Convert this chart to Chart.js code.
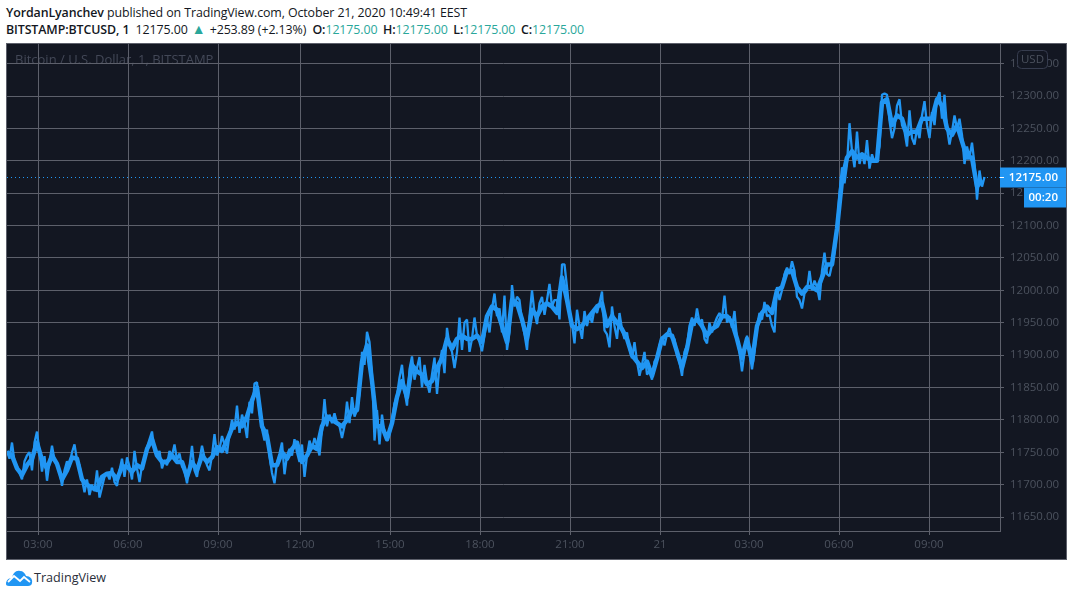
<!DOCTYPE html>
<html>
<head>
<meta charset="utf-8">
<title>BITSTAMP:BTCUSD, 1</title>
<script src="https://cdn.jsdelivr.net/npm/chart.js@4"></script>
<style>
    html, body { margin: 0; padding: 0; background: #fff; width: 1073px; height: 596px; overflow: hidden; }
    body { position: relative; font-family: "Open Sans", sans-serif; color: #131722; }
    .line { position: absolute; left: 6px; font-size: 12.4px; white-space: nowrap; letter-spacing: -0.1px; }
    .line b { font-weight: 600; }
    .up { color: #2aa79b; }
    .tri { font-size: 14px; line-height: 1; margin: 0 1px; }
    .ohlc { margin-left: 2.5px; }
    #line1 { top: 4px; }
    #line2 { top: 21px; }
    #frame { position: absolute; left: 6px; top: 43px; width: 1061px; height: 517px; box-sizing: border-box; border: 1px solid #5d606b; background: #131722; }
    #logo { position: absolute; left: 6px; top: 569px; }
    #brand { position: absolute; left: 34px; top: 569px; font-size: 12.6px; color: #2a2e39; }
</style>
</head>
<body>
<div class="line" id="line1"><b>YordanLyanchev</b> published on TradingView.com, October 21, 2020 10:49:41 EEST</div>
<div class="line" id="line2"><b>BITSTAMP:BTCUSD, 1</b>&nbsp; 12175.00 <span class="up tri">&#9650;</span> +253.89 (+2.13%)&nbsp; <b>O:</b><span class="up">12175.00</span> <b class="ohlc">H:</b><span class="up">12175.00</span> <b class="ohlc">L:</b><span class="up">12175.00</span> <b class="ohlc">C:</b><span class="up">12175.00</span></div>
<div id="frame"><canvas id="chart" width="1059" height="515"></canvas></div>
<svg id="logo" width="27" height="17" viewBox="0 0 27 17">
    <path d="M0 15 C0 11 3 9 6 9 C7 4 10 1 14 2 C17 2 19 4 20 7 C24 7 27 10 26 14 C26 16 24 17 22 17 L3 17 C1 17 0 16 0 15 Z" fill="#2196f3"/>
    <path d="M2 13 L8 7 L14 12 L18 8 L24 13" fill="none" stroke="#fff" stroke-width="1.8"/>
</svg>
<div id="brand">TradingView</div>
<script>
// Closes sampled every five 1-minute bars, these carry the thin spikes
const closes = [
    11752, 11740, 11765, 11735, 11728, 11718, 11708, 11736, 11745, 11750, 11722, 11765, 11782, 11750, 11720, 11744, 11706, 11735, 11760, 11738,
    11732, 11722, 11698, 11722, 11736, 11728, 11750, 11762, 11738, 11730, 11708, 11688, 11708, 11684, 11700, 11690, 11722, 11680, 11696, 11712,
    11718, 11708, 11726, 11704, 11698, 11722, 11740, 11712, 11742, 11728, 11708, 11752, 11725, 11704, 11730, 11742, 11758, 11770, 11782, 11752,
    11745, 11752, 11725, 11738, 11730, 11752, 11745, 11762, 11738, 11748, 11728, 11722, 11702, 11728, 11760, 11722, 11712, 11738, 11760, 11742,
    11730, 11722, 11745, 11778, 11745, 11755, 11775, 11762, 11748, 11778, 11800, 11785, 11822, 11780, 11808, 11795, 11772, 11828, 11810, 11856,
    11858, 11812, 11786, 11768, 11785, 11745, 11718, 11702, 11735, 11748, 11765, 11716, 11745, 11755, 11745, 11770, 11750, 11735, 11762, 11712,
    11745, 11768, 11755, 11772, 11760, 11745, 11785, 11832, 11790, 11808, 11795, 11810, 11795, 11790, 11772, 11790, 11828, 11795, 11835, 11805,
    11815, 11840, 11905, 11885, 11936, 11920, 11875, 11768, 11815, 11762, 11808, 11780, 11768, 11778, 11800, 11825, 11838, 11865, 11885, 11845,
    11822, 11878, 11898, 11862, 11880, 11897, 11850, 11885, 11858, 11842, 11870, 11896, 11840, 11885, 11908, 11872, 11942, 11915, 11905, 11880,
    11905, 11958, 11908, 11950, 11955, 11905, 11925, 11958, 11930, 11920, 11906, 11930, 11955, 11935, 11972, 11995, 11960, 11972, 11935, 11992,
    11908, 11935, 12008, 11975, 11990, 11985, 11952, 11932, 11908, 11960, 12000, 11965, 11948, 11980, 11990, 11962, 11985, 12010, 11975, 11985,
    11985, 11955, 12040, 12040, 12005, 11968, 11948, 11918, 11970, 11945, 11925, 11968, 11945, 11962, 11950, 11972, 11965, 11980, 11998, 11938,
    11932, 11912, 11975, 11945, 11925, 11965, 11940, 11925, 11935, 11910, 11895, 11920, 11890, 11868, 11885, 11905, 11870, 11875, 11862, 11890,
    11895, 11915, 11928, 11915, 11932, 11942, 11925, 11925, 11900, 11890, 11868, 11905, 11915, 11945, 11958, 11945, 11972, 11950, 11955, 11925,
    11918, 11950, 11935, 11948, 11958, 11965, 11955, 11992, 11950, 11960, 11942, 11968, 11925, 11905, 11875, 11905, 11930, 11905, 11878, 11905,
    11945, 11965, 11955, 11982, 11960, 11962, 11945, 11935, 12005, 11985, 12000, 12025, 12035, 12025, 12045, 12030, 11990, 11985, 11972, 11995,
    12000, 12030, 12000, 12015, 12005, 11985, 12030, 12058, 12025, 12022, 12040, 12058, 12095, 12150, 12190, 12165, 12195, 12258, 12215, 12190,
    12245, 12195, 12212, 12195, 12232, 12188, 12210, 12198, 12205, 12222, 12302, 12304, 12302, 12262, 12235, 12250, 12285, 12295, 12255, 12245,
    12222, 12278, 12235, 12225, 12250, 12235, 12270, 12292, 12255, 12235, 12275, 12255, 12295, 12306, 12265, 12302, 12250, 12225, 12245, 12270,
    12250, 12265, 12240, 12195, 12222, 12205, 12228, 12195, 12140, 12185, 12160, 12175
];
const barsPerClose = 5;

// Mid price every ten bars, the thick body of the trace
const midPrices = [
    11750, 11745, 11725, 11715, 11730, 11740, 11765, 11738, 11725, 11745, 11732, 11708, 11722, 11742, 11740, 11708, 11700, 11695, 11692, 11712,
    11717, 11718, 11708, 11728, 11728, 11720, 11730, 11725, 11755, 11770, 11745, 11735, 11735, 11745, 11735, 11735, 11712, 11735, 11722, 11745,
    11735, 11742, 11758, 11752, 11768, 11787, 11795, 11790, 11805, 11830, 11850, 11790, 11775, 11730, 11730, 11750, 11740, 11755, 11765, 11735,
    11745, 11760, 11755, 11790, 11805, 11800, 11795, 11790, 11800, 11815, 11815, 11890, 11915, 11860, 11790, 11790, 11770, 11795, 11835, 11860,
    11835, 11885, 11875, 11870, 11855, 11860, 11880, 11895, 11925, 11910, 11925, 11930, 11925, 11925, 11930, 11920, 11960, 11975, 11970, 11945,
    11920, 11985, 11980, 11955, 11925, 11970, 11960, 11975, 11980, 11975, 11965, 12020, 11985, 11945, 11940, 11945, 11955, 11965, 11975, 11980,
    11945, 11960, 11950, 11940, 11925, 11900, 11890, 11880, 11890, 11868, 11895, 11925, 11932, 11930, 11905, 11880, 11910, 11950, 11955, 11945,
    11930, 11940, 11945, 11960, 11960, 11950, 11925, 11895, 11925, 11890, 11945, 11965, 11975, 11965, 12000, 12005, 12030, 12030, 12005, 11995,
    12005, 12005, 12000, 12020, 12040, 12040, 12095, 12170, 12205, 12215, 12205, 12210, 12205, 12200, 12200, 12290, 12295, 12255, 12270, 12265,
    12240, 12245, 12245, 12265, 12265, 12265, 12295, 12285, 12250, 12240, 12255, 12230, 12205, 12205, 12160, 12170
];
const barsPerMid = 10;

const priceTicks = [11650, 11700, 11750, 11800, 11850, 11900, 11950, 12000, 12050, 12100, 12150, 12200, 12250, 12300, 12350];
const timeTickBars = [62, 242, 422, 586, 766, 946, 1126, 1306, 1484, 1664, 1844];
const timeTickLabels = ['03:00', '06:00', '09:00', '12:00', '15:00', '18:00', '21:00', '21', '03:00', '06:00', '09:00'];

const lastPrice = 12175;
const countdown = '00:20';
const watermark = 'Bitcoin / U.S. Dollar, 1, BITSTAMP';
const currency = 'USD';

const LINE_BLUE = '#2196f3';
const GRID = '#5d606b';
const AXIS_TEXT = '#4c525e';
const FONT = '"Open Sans", sans-serif';

// Watermark sits under the grid, price line and tags sit on top of everything
const overlays = {
    id: 'overlays',
    beforeDraw(chart) {
        const { ctx } = chart;
        ctx.save();
        ctx.font = '13px ' + FONT;
        ctx.fillStyle = '#434857';
        ctx.textBaseline = 'middle';
        ctx.fillText(watermark, 8, 16);
        ctx.restore();
    },
    afterDraw(chart) {
        const { ctx, chartArea, scales } = chart;
        const y = Math.round(scales.y.getPixelForValue(lastPrice)) + 0.5;
        ctx.save();

        ctx.strokeStyle = LINE_BLUE;
        ctx.setLineDash([1, 3]);
        ctx.beginPath();
        ctx.moveTo(chartArea.left, y);
        ctx.lineTo(chartArea.right, y);
        ctx.stroke();
        ctx.setLineDash([]);

        ctx.fillStyle = LINE_BLUE;
        ctx.fillRect(chartArea.right, y - 10, 66, 20);
        ctx.fillRect(chartArea.right + 24, y + 10, 42, 20);
        ctx.fillStyle = '#fff';
        ctx.font = '600 11.5px ' + FONT;
        ctx.textBaseline = 'middle';
        ctx.textAlign = 'right';
        ctx.fillText(lastPrice.toFixed(2), chartArea.right + 58, y + 0.5);
        ctx.fillText(countdown, chartArea.right + 58, y + 20.5);
        ctx.fillRect(chartArea.right, y - 0.5, 4, 1);

        // Currency badge over the top price label
        ctx.beginPath();
        ctx.roundRect(chartArea.right + 17.5, 6.5, 30, 18, 4);
        ctx.fillStyle = '#131722';
        ctx.fill();
        ctx.strokeStyle = '#363c4e';
        ctx.stroke();
        ctx.fillStyle = AXIS_TEXT;
        ctx.font = '11.5px ' + FONT;
        ctx.textAlign = 'center';
        ctx.fillText(currency, chartArea.right + 32.5, 16);
        ctx.restore();
    }
};

new Chart(document.getElementById('chart'), {
    type: 'line',
    data: {
        datasets: [{
            data: closes.map((close, i) => ({ x: i * barsPerClose, y: close })),
            borderColor: LINE_BLUE,
            borderWidth: 2.3,
            borderJoinStyle: 'bevel',
            pointRadius: 0,
            tension: 0
        }, {
            data: midPrices.map((mid, i) => ({ x: i * barsPerMid, y: mid })),
            borderColor: LINE_BLUE,
            borderWidth: 4.5,
            borderJoinStyle: 'round',
            pointRadius: 0,
            tension: 0
        }]
    },
    options: {
        responsive: false,
        animation: false,
        parsing: false,
        plugins: { legend: { display: false }, tooltip: { enabled: false } },
        layout: { padding: 0 },
        scales: {
            x: {
                type: 'linear',
                min: 0,
                max: 1986,
                afterBuildTicks: (scale) => { scale.ticks = timeTickBars.map(value => ({ value })); },
                afterFit: (scale) => { scale.height = 28; scale.paddingLeft = 0; scale.paddingRight = 0; },
                grid: { color: GRID, tickLength: 4, lineWidth: 1 },
                border: { color: GRID },
                ticks: {
                    autoSkip: false,
                    maxRotation: 0,
                    color: AXIS_TEXT,
                    font: { family: FONT, size: 11.5 },
                    callback: (value) => timeTickLabels[timeTickBars.indexOf(value)]
                }
            },
            y: {
                position: 'right',
                min: 11628.4,
                max: 12380.3,
                afterBuildTicks: (scale) => { scale.ticks = priceTicks.map(value => ({ value })); },
                afterFit: (scale) => { scale.width = 66; scale.paddingTop = 0; scale.paddingBottom = 0; },
                grid: { color: GRID, tickLength: 4, lineWidth: 1 },
                border: { color: GRID },
                ticks: {
                    autoSkip: false,
                    color: AXIS_TEXT,
                    padding: 6,
                    font: { family: FONT, size: 11.5 },
                    callback: (value) => value.toFixed(2)
                }
            }
        }
    },
    plugins: [overlays]
});
</script>
</body>
</html>
